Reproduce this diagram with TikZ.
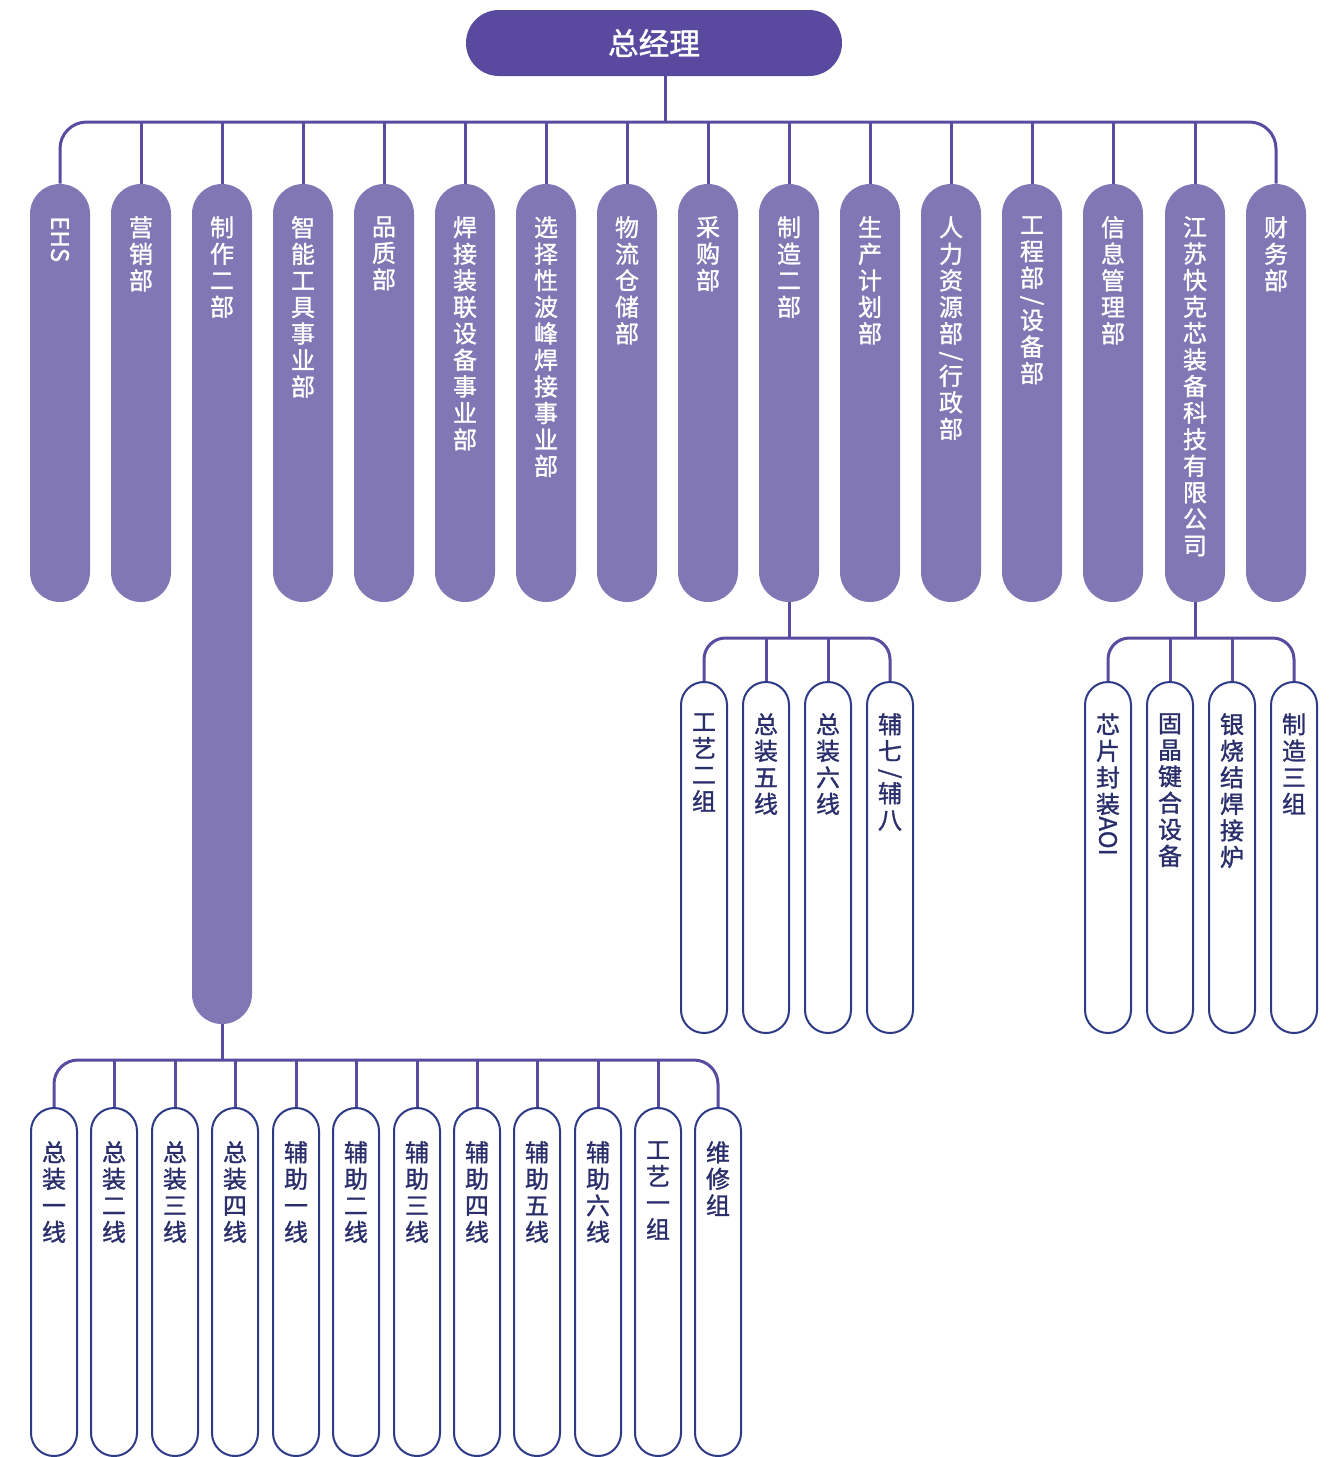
\documentclass[tikz,border=0pt]{standalone}
\usepackage{fontspec}
\setmainfont{Noto Sans CJK SC}
\newfontfamily\medfont{Noto Sans CJK SC}[FakeBold=1.3]
\usepackage{graphicx}
\definecolor{topc}{HTML}{5A4A9F}
\definecolor{colc}{HTML}{8077B4}
\definecolor{linec}{HTML}{5A4BA0}
\definecolor{subb}{HTML}{2D3A86}
\definecolor{subt}{HTML}{2A2F6B}
\newcommand{\rt}[1]{\rotatebox[origin=c]{-90}{#1}}
\newcommand{\vslash}{\\[-4pt]\rt{/}\\[-4pt]}
\begin{document}
\begin{tikzpicture}[x=0.75pt,y=-0.75pt,
  colbox/.style={fill=colc, draw=none, minimum width=45pt, rounded corners=22.4pt, inner sep=0pt},
  subbox/.style={fill=white, draw=subb, line width=1.5pt, minimum width=34.5pt, rounded corners=17.2pt, inner sep=0pt},
  coltext/.style={text=white, font=\medfont\fontsize{18}{19.9}\selectfont, align=center, anchor=north, inner sep=0pt},
  subtext/.style={text=subt, font=\medfont\fontsize{18}{19.9}\selectfont, align=center, anchor=north, inner sep=0pt},
  conn/.style={draw=linec, line width=2.25pt},
  topbox/.style={fill=topc, draw=none, minimum width=282pt, minimum height=49.5pt, rounded corners=24.7pt, text=white, font=\medfont\fontsize{23}{23}\selectfont, inner sep=0pt}]
\useasboundingbox (0,0) rectangle (1332,1457);

% top node
\node[topbox] (top) at (654,43) {总经理};

% first level columns
\foreach \i/\x in {1/60,2/141,4/303,5/384,6/465,7/546,8/627,9/708,10/789,11/870,12/951,13/1032,14/1113,15/1195,16/1276}{
  \node[colbox, minimum height=313.5pt] (c\i) at (\x,393) {};
}
\node[colbox, minimum height=630pt] (c3) at (222,604) {};

\node[coltext] (t1) at (60,216) {\rt{EHS}};
\node[coltext] (t2) at (141,216) {营\\销\\部};
\node[coltext] (t3) at (222,216) {制\\作\\二\\部};
\node[coltext] (t4) at (303,216) {智\\能\\工\\具\\事\\业\\部};
\node[coltext] (t5) at (384,216) {品\\质\\部};
\node[coltext] (t6) at (465,216) {焊\\接\\装\\联\\设\\备\\事\\业\\部};
\node[coltext] (t7) at (546,216) {选\\择\\性\\波\\峰\\焊\\接\\事\\业\\部};
\node[coltext] (t8) at (627,216) {物\\流\\仓\\储\\部};
\node[coltext] (t9) at (708,216) {采\\购\\部};
\node[coltext] (t10) at (789,216) {制\\造\\二\\部};
\node[coltext] (t11) at (870,216) {生\\产\\计\\划\\部};
\node[coltext] (t12) at (951,216) {人\\力\\资\\源\\部\vslash 行\\政\\部};
\node[coltext] (t13) at (1032,216) {工\\程\\部\vslash 设\\备\\部};
\node[coltext] (t14) at (1113,216) {信\\息\\管\\理\\部};
\node[coltext] (t15) at (1195,216) {江\\苏\\快\\克\\芯\\装\\备\\科\\技\\有\\限\\公\\司};
\node[coltext] (t16) at (1276,216) {财\\务\\部};

% connectors level 1
\coordinate (bus1) at (0,122);
\coordinate (tq) at ([xshift=8.25pt]top.south);
\draw[conn] (tq) -- (tq |- bus1);
\draw[conn, rounded corners=20pt] (c1.north) |- (c16.north |- bus1) -- (c16.north);
\foreach \i in {2,...,15}{
  \draw[conn] (c\i.north) -- (c\i.north |- bus1);
}

% sub group of 制造二部
\foreach \i/\x in {1/704,2/766,3/828,4/890}{
  \node[subbox, minimum height=263.25pt] (m\i) at (\x,857.5) {};
}
\node[subtext] (mt1) at (704,713) {工\\艺\\二\\组};
\node[subtext] (mt2) at (766,713) {总\\装\\五\\线};
\node[subtext] (mt3) at (828,713) {总\\装\\六\\线};
\node[subtext] (mt4) at (890,713) {辅\\七\vslash 辅\\八};
\coordinate (bus2) at (0,638);
\draw[conn] (c10.south) -- (c10.south |- bus2);
\draw[conn, rounded corners=16pt] (m1.north) |- (m4.north |- bus2) -- (m4.north);
\foreach \i in {2,3}{
  \draw[conn] (m\i.north) -- (m\i.north |- bus2);
}

% sub group of 江苏快克
\foreach \i/\x in {1/1108,2/1170,3/1232,4/1294}{
  \node[subbox, minimum height=263.25pt] (j\i) at (\x,857.5) {};
}
\node[subtext] (jt1) at (1108,713) {芯\\片\\封\\装\\\rt{AOI}};
\node[subtext] (jt2) at (1170,713) {固\\晶\\键\\合\\设\\备};
\node[subtext] (jt3) at (1232,713) {银\\烧\\结\\焊\\接\\炉};
\node[subtext] (jt4) at (1294,713) {制\\造\\三\\组};
\draw[conn] (c15.south) -- (c15.south |- bus2);
\draw[conn, rounded corners=16pt] (j1.north) |- (j4.north |- bus2) -- (j4.north);
\foreach \i in {2,3}{
  \draw[conn] (j\i.north) -- (j\i.north |- bus2);
}

% sub group of 制作二部
\foreach \i/\x/\t in {1/54/{总\\装\\一\\线},2/114/{总\\装\\二\\线},3/175/{总\\装\\三\\线},4/235/{总\\装\\四\\线},5/296/{辅\\助\\一\\线},6/356/{辅\\助\\二\\线},7/417/{辅\\助\\三\\线},8/477/{辅\\助\\四\\线},9/537/{辅\\助\\五\\线},10/598/{辅\\助\\六\\线},11/658/{工\\艺\\一\\组},12/718/{维\\修\\组}}{
  \node[subbox, minimum height=261pt] (b\i) at (\x,1282) {};
  \node[subtext] (bt\i) at (\x,1141) {\t};
}
\coordinate (bus3) at (0,1060);
\draw[conn] (c3.south) -- (c3.south |- bus3);
\draw[conn, rounded corners=18pt] (b1.north) |- (b12.north |- bus3) -- (b12.north);
\foreach \i in {2,...,11}{
  \draw[conn] (b\i.north) -- (b\i.north |- bus3);
}
\end{tikzpicture}
\end{document}
